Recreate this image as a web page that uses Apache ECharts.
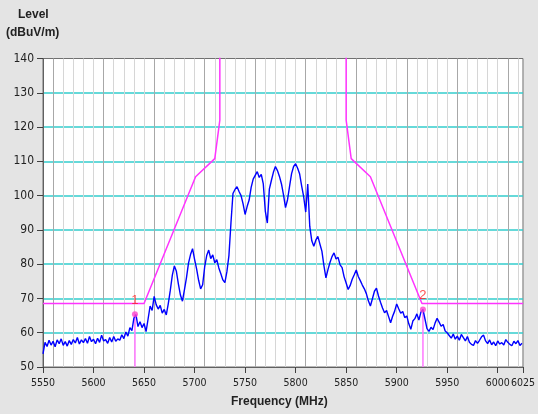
<!DOCTYPE html>
<html>
<head>
<meta charset="utf-8">
<script src="https://cdn.jsdelivr.net/npm/echarts@6/dist/echarts.min.js"></script>
<style>
  html, body { margin: 0; padding: 0; background: #e4e4e4; }
  #spec { width: 538px; height: 414px; }
</style>
</head>
<body>
<div id="spec"></div>
<script>
// measured trace, 2 MHz steps starting at 5550 MHz
const freqStart = 5550
const freqStep = 2
const level = [
  53.8, 57.2, 56.0, 57.8, 56.4, 57.5, 55.9, 57.9, 56.8, 58.2,
  56.3, 57.4, 56.1, 57.7, 56.6, 58.0, 57.0, 58.6, 56.7, 57.9,
  57.1, 58.3, 56.9, 58.9, 57.4, 58.1, 56.8, 58.4, 57.2, 59.3,
  57.6, 58.0, 56.9, 58.6, 57.3, 58.9, 57.5, 58.2, 57.8, 59.4,
  58.3, 60.2, 59.0, 61.5, 60.6, 64.3,
  65.3, 61.8, 63.2, 61.5, 62.7, 60.3, 64.0, 67.8, 66.5, 70.6,
  68.2, 66.9, 68.0, 65.7, 66.8, 65.2, 68.5, 72.4, 76.8, 79.5,
  77.9, 74.2, 71.0, 69.2, 72.6, 76.1, 80.3, 82.8, 84.5, 81.4,
  78.6, 75.3, 72.8, 74.0, 79.2, 82.5, 84.1, 81.6, 82.7, 80.4,
  81.3, 78.9, 77.2, 75.4, 74.6, 77.8, 82.5, 92.0, 100.6, 101.8,
  102.6, 101.2, 100.0, 97.6, 94.5, 96.8, 98.7, 102.4, 104.8, 105.9,
  107.0, 105.3, 106.2, 103.4, 95.5, 92.0, 101.9, 104.4, 106.8, 108.5,
  107.3, 105.6, 103.4, 100.2, 96.5, 98.8, 102.7, 106.4, 108.5, 109.3,
  108.0, 106.3, 102.8, 99.6, 95.2, 103.4, 91.0, 86.8,
  85.2, 87.0, 88.1, 85.9, 83.8, 79.6, 76.0, 78.4, 80.5, 82.2,
  83.3, 81.5, 82.0, 79.8, 79.0, 76.3, 74.5, 72.6, 73.8, 75.6,
  76.9, 78.3, 76.4, 75.2, 73.9, 72.8, 71.4, 69.3, 67.8, 69.9,
  72.1, 73.0, 70.7, 68.9, 67.2, 65.8, 66.5, 64.7, 62.9, 64.8,
  66.3, 68.4, 67.0, 65.7, 66.2, 64.4, 64.9, 62.6, 61.0, 63.4,
  64.1, 65.5, 63.7, 66.0, 66.8, 64.0, 61.2, 60.4, 61.6, 60.9,
  62.8, 64.2, 63.1, 61.9, 62.4, 60.5, 60.0, 59.2, 58.4, 59.6,
  58.1, 59.0, 57.8, 59.5, 58.6, 57.6, 58.9, 57.2, 56.6, 56.3,
  57.7, 56.9, 57.8, 58.8, 59.3, 57.6, 56.8, 57.9, 56.5, 57.3,
  56.2, 57.6, 56.7, 57.1, 56.4, 58.0, 57.2, 56.6, 56.2, 57.5,
  56.8, 57.7, 56.3, 56.9
]

// limit mask (goes off the top of the plot between 5725 and 5850)
const maskFreq = [5550, 5650, 5701, 5720, 5725, 5725, 5850, 5850, 5855, 5874, 5925, 6025]
const maskLevel = [68.5, 68.5, 105.5, 110.8, 122, 150, 150, 122, 110.8, 105.5, 68.5, 68.5]

const markerNames = ['1', '2']
const markerFreq = [5641, 5926]
const markerLevel = [65.4, 66.8]

const freqMin = 5550, freqMax = 6025, freqTick = 50
const levelMin = 50, levelMax = 140, levelTick = 10

const font = 'Liberation Sans, Arial, sans-serif'
const tickFont = '"Liberation Sans Narrow", "DejaVu Sans Condensed", "Liberation Sans", sans-serif'

let chart = echarts.init(document.getElementById('spec'))

const traceData = level.map((v, i) => [freqStart + i * freqStep, v])
const maskData = maskFreq.map((f, i) => [f, maskLevel[i]])

const markerSeries = markerNames.map((name, i) => ({
  type: 'line',
  silent: true,
  symbol: 'none',
  lineStyle: { color: '#ff77ff', width: 1.5 },
  data: [[markerFreq[i], levelMin], [markerFreq[i], markerLevel[i]]],
  z: 4
}))

chart.setOption({
  backgroundColor: '#e4e4e4',
  animation: false,
  textStyle: { fontFamily: font },
  grid: {
    left: 43, right: 15, top: 58.5, bottom: 47,
    show: true, backgroundColor: '#ffffff', borderColor: '#707070', borderWidth: 1
  },
  graphic: [
    { type: 'text', left: 18, top: 9, style: { text: 'Level', font: 'bold 12px ' + font, fill: '#222' } },
    { type: 'text', left: 6, top: 27, style: { text: '(dBuV/m)', font: 'bold 12px ' + font, fill: '#222' } },
    { type: 'text', left: 231, top: 396, style: { text: 'Frequency (MHz)', font: 'bold 12px ' + font, fill: '#222' } }
  ],
  xAxis: [
    {
      type: 'value', min: freqMin, max: freqMax, interval: freqTick,
      axisLine: { lineStyle: { color: '#606060' } },
      axisTick: { length: 6, lineStyle: { color: '#404040' } },
      axisLabel: {
        color: '#222', fontSize: 10.5, fontFamily: tickFont, margin: 11,
        showMaxLabel: true, showMinLabel: true, hideOverlap: false,
        formatter: v => String(v)
      },
      splitLine: { show: false }
    },
    {
      // grid lines only, every 10 MHz, darker at the 50 MHz ticks
      type: 'value', min: freqMin, max: freqMax, interval: 10,
      axisLine: { show: false }, axisTick: { show: false }, axisLabel: { show: false },
      splitLine: {
        show: true, showMinLine: false, showMaxLine: false,
        lineStyle: { color: ['#a8a8a8', '#d6d6d6', '#d6d6d6', '#d6d6d6', '#d6d6d6'], width: 1 }
      }
    }
  ],
  yAxis: {
    type: 'value', min: levelMin, max: levelMax, interval: levelTick,
    axisLine: { show: true, lineStyle: { color: '#606060' } },
    axisTick: { show: true, length: 6, lineStyle: { color: '#404040' } },
    axisLabel: { color: '#222', fontSize: 12, fontFamily: tickFont, margin: 9 },
    splitLine: {
      show: true, showMinLine: false, showMaxLine: false,
      lineStyle: { color: '#33cccc', width: 1.5 }
    }
  },
  series: [
    {
      name: 'mask', type: 'line', silent: true, symbol: 'none',
      lineStyle: { color: '#ff33ff', width: 1.5 },
      data: maskData, z: 3
    },
    ...markerSeries,
    {
      name: 'level', type: 'line', silent: true, symbol: 'none',
      lineStyle: { color: '#0000ff', width: 1.4 },
      data: traceData, z: 5
    },
    {
      name: 'markers', type: 'scatter', silent: true,
      symbolSize: 6,
      itemStyle: { color: '#ff44cc' },
      label: {
        show: true, position: 'top', distance: 4,
        formatter: p => markerNames[p.dataIndex],
        color: '#ff2020', fontSize: 13
      },
      data: markerFreq.map((f, i) => [f, markerLevel[i]]),
      z: 6
    }
  ]
})
</script>
</body>
</html>
